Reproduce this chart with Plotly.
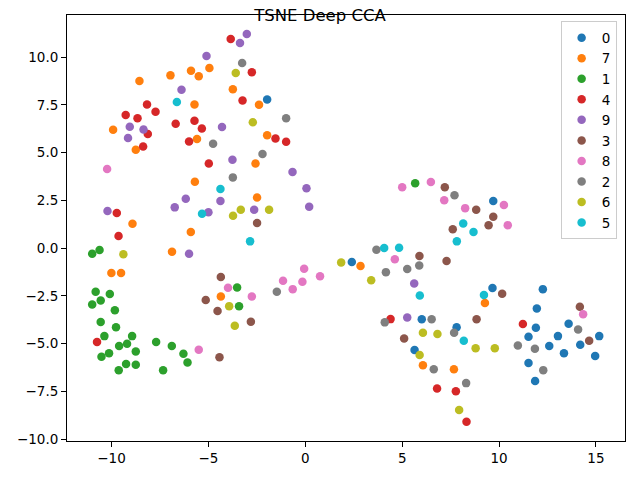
import plotly.graph_objects as go

labels = ["0", "7", "1", "4", "9", "3", "8", "2", "6", "5"]
colors = ["#1f77b4", "#ff7f0e", "#2ca02c", "#d62728", "#9467bd",
          "#8c564b", "#e377c2", "#7f7f7f", "#bcbd22", "#17becf"]

pts_0 = [(-1.97, 7.78), (2.40, -0.73), (9.70, 2.46), (9.66, -2.09), (12.26, -2.15), (11.95, -3.16),
         (6.01, -3.73), (7.81, -4.15), (5.64, -5.34), (11.90, -4.17), (13.59, -3.96), (11.52, -4.64),
         (13.04, -4.61), (15.17, -4.61), (12.59, -5.13), (14.19, -5.06), (13.35, -5.51), (14.96, -5.65),
         (11.52, -6.02), (11.86, -6.96)]
pts_7 = [(-4.95, 9.42), (-5.90, 9.28), (-5.50, 8.99), (-6.96, 9.04), (-8.56, 8.74), (-5.72, 7.52),
         (-9.92, 6.19), (-5.59, 5.71), (-8.75, 5.15), (-3.74, 8.31), (-2.39, 7.50), (-1.97, 5.90),
         (-2.57, 4.43), (-5.70, 3.47), (-8.92, 1.27), (-5.91, 0.84), (-6.88, -0.19), (-10.01, -1.31),
         (-9.51, -1.31), (-2.49, 2.65), (-4.36, -2.53), (2.85, -0.94), (9.27, -2.88), (6.07, -6.14),
         (7.67, -6.35)]
pts_1 = [(-10.62, -0.10), (-11.00, -0.30), (-10.82, -2.29), (-10.09, -2.41), (-10.56, -2.74),
         (-11.00, -2.95), (-9.83, -3.25), (-10.56, -3.87), (-9.77, -4.14), (-10.37, -4.61),
         (-8.94, -4.61), (-9.61, -5.13), (-9.20, -5.01), (-7.70, -4.92), (-6.89, -5.13), (-8.75, -5.41),
         (-10.13, -5.51), (-10.52, -5.69), (-6.29, -5.53), (-6.08, -5.99), (-9.25, -6.07),
         (-8.75, -6.11), (-9.63, -6.40), (-7.34, -6.40), (-3.52, -2.06), (-3.42, -3.05), (5.67, 3.39)]
pts_4 = [(-8.17, 7.52), (-7.73, 7.14), (-9.27, 6.96), (-8.66, 6.79), (-5.72, 6.67), (-6.69, 6.51),
         (-5.34, 6.26), (-8.13, 5.97), (-6.00, 5.58), (-8.37, 5.32), (-4.98, 4.43), (-3.85, 10.94),
         (-2.76, 9.20), (-3.24, 7.73), (-1.54, 5.74), (-0.99, 5.56), (-9.73, 1.83), (-9.64, 0.63),
         (-10.75, -4.92), (4.40, -3.72), (6.80, -7.35), (7.77, -7.49), (8.32, -9.09), (11.23, -3.98)]
pts_9 = [(-5.10, 10.05), (-6.39, 8.29), (-9.06, 6.35), (-8.35, 6.21), (-9.15, 5.76), (-3.02, 11.20),
         (-3.37, 10.73), (-4.30, 6.34), (-3.76, 4.62), (-0.66, 3.98), (-6.17, 2.58), (-6.74, 2.13),
         (-5.00, 1.87), (-10.21, 1.94), (-6.00, -0.30), (0.06, 3.13), (-4.38, 2.46), (0.20, 2.16),
         (-2.64, 2.01), (5.62, -1.85), (5.26, -3.63)]
pts_3 = [(-5.14, -2.72), (-2.49, 1.31), (-4.36, -1.52), (-4.53, -3.30), (-2.81, -3.86), (-4.43, -5.71),
         (7.20, 3.18), (8.82, 2.01), (9.70, 1.64), (7.61, 0.99), (9.46, 1.19), (5.89, -0.42),
         (7.29, -0.68), (10.16, -2.39), (14.17, -3.07), (8.84, -3.73), (5.10, -4.73), (14.65, -4.85)]
pts_8 = [(-10.23, 4.14), (-0.06, -1.08), (0.76, -1.47), (-1.15, -1.71), (-0.15, -1.76), (-3.99, -2.08),
         (-0.65, -2.15), (-2.76, -2.53), (-5.50, -5.32), (5.00, 3.18), (6.48, 3.46), (7.17, 2.50),
         (8.25, 2.09), (10.25, 2.25), (10.45, 1.20), (4.62, -0.59), (14.34, -3.46)]
pts_2 = [(-4.76, 5.46), (-3.26, 9.69), (-0.99, 6.79), (-2.21, 4.92), (-3.74, 3.70), (-1.47, -2.29),
         (7.70, 2.76), (3.67, -0.09), (4.16, -1.26), (5.26, -1.10), (5.88, -0.91), (4.10, -3.89),
         (6.52, -3.73), (7.68, -4.43), (6.63, -6.34), (8.30, -7.07), (14.08, -4.26), (10.97, -5.10),
         (11.85, -5.27), (12.28, -6.39)]
pts_6 = [(-3.59, 9.16), (-2.71, 6.58), (-9.39, -0.33), (-3.33, 2.01), (-1.87, 2.01), (-3.73, 1.69),
         (1.85, -0.75), (-3.93, -3.04), (-3.64, -4.07), (3.40, -1.69), (6.07, -4.43), (6.82, -4.50),
         (5.90, -5.60), (8.79, -5.25), (9.78, -5.25), (7.94, -8.48)]
pts_5 = [(-6.63, 7.64), (-5.33, 1.80), (-4.38, 3.09), (-2.85, 0.35), (8.15, 1.29), (8.68, 0.84),
         (7.82, 0.35), (4.07, 0.00), (4.84, 0.02), (5.91, -2.48), (9.22, -2.46), (8.18, -4.85)]

series = [pts_0, pts_7, pts_1, pts_4, pts_9, pts_3, pts_8, pts_2, pts_6, pts_5]

x_ticks = [-10, -5, 0, 5, 10, 15]
y_ticks = [-10.0, -7.5, -5.0, -2.5, 0.0, 2.5, 5.0, 7.5, 10.0]

FONT = "DejaVu Sans"

fig = go.Figure()
for lab, col, pts in zip(labels, colors, series):
    fig.add_trace(go.Scatter(
        x=[p[0] for p in pts], y=[p[1] for p in pts],
        mode="markers", name=lab,
        marker=dict(color=col, size=8.5, line=dict(width=0)),
    ))

axis_common = dict(
    showgrid=False, zeroline=False, showline=True, mirror=True,
    linecolor="black", linewidth=1, ticks="outside", ticklen=5, tickwidth=1,
    tickcolor="black", tickfont=dict(family=FONT, size=13.5, color="black"),
)

fig.update_layout(
    width=640, height=480,
    margin=dict(l=67, r=15, t=15, b=39),
    paper_bgcolor="white", plot_bgcolor="white",
    font=dict(family=FONT, color="black"),
    title=dict(text="TSNE Deep CCA", x=0.5, xref="container", xanchor="center",
               y=0.98, yref="container", yanchor="top",
               font=dict(family=FONT, size=16.5, color="black")),
    xaxis=dict(range=[-12.3, 16.5], tickvals=x_ticks, **axis_common),
    yaxis=dict(range=[-10.1, 12.2], tickvals=y_ticks, tickformat=".1f", **axis_common),
    legend=dict(x=0.985, y=0.985, xanchor="right", yanchor="top",
                bgcolor="rgba(255,255,255,0.8)", bordercolor="#cccccc", borderwidth=1,
                font=dict(family=FONT, size=13.5, color="black")),
)

fig.write_html("out.html")
